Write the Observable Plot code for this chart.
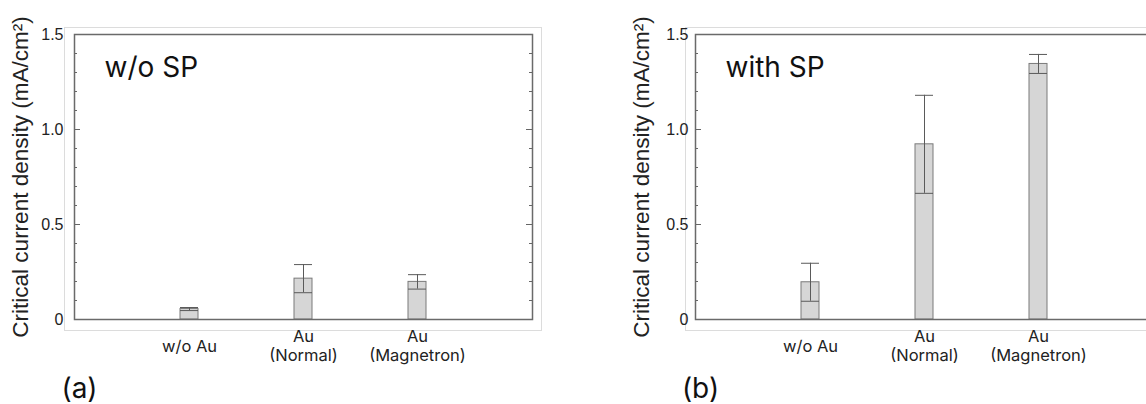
<!DOCTYPE html>
<html><head><meta charset="utf-8">
<script src="https://cdn.jsdelivr.net/npm/d3@7"></script>
<script src="https://cdn.jsdelivr.net/npm/@observablehq/plot@0.6"></script>
<style>
html,body{margin:0;padding:0;background:#fff;overflow:hidden;width:1146px;height:404px;position:relative;}
.panel{position:absolute;top:0;width:573px;height:404px;}
#pa{left:0px} #pb{left:621px}
.panel svg{max-width:none !important;overflow:visible;}
</style></head><body>
<div id="pa" class="panel"></div><div id="pb" class="panel"></div>
<script>
const categories = ["w/o Au", "Au\n(Normal)", "Au\n(Magnetron)"];
const meanWithoutSP = [0.055, 0.215, 0.198];
const sdWithoutSP = [0.008, 0.074, 0.038];
const meanWithSP = [0.196, 0.922, 1.345];
const sdWithSP = [0.100, 0.258, 0.050];
const yTicks = [0, 0.5, 1.0, 1.5];
const yMinorTicks = [0.1, 0.2, 0.3, 0.4, 0.6, 0.7, 0.8, 0.9, 1.1, 1.2, 1.3, 1.4];
const yLabel = "Critical current density (mA/cm²)";
const panelTags = ["(a)", "(b)"];
const panelTitles = ["w/o SP", "with SP"];

const W = 573, H = 404, ML = 74, MR = 41, MT = 34, MB = 85;
const PW = W - ML - MR;
const sans = "Inter, 'Open Sans', sans-serif";
const arial = "'Liberation Sans', Arial, sans-serif";

function panel(tag, title, means, sds, tickPad) {
  const data = categories.map((c, i) => ({cat: c, mean: means[i], sd: sds[i]}));
  return Plot.plot({
    width: W, height: H,
    marginLeft: ML, marginRight: MR, marginTop: MT, marginBottom: MB,
    style: {background: "transparent", overflow: "visible"},
    x: {type: "band", domain: categories, paddingInner: 0.843, paddingOuter: 0.92, axis: null},
    y: {domain: [0, 1.5], axis: null},
    marks: [
      Plot.frame({stroke: "#dcdcdc", strokeWidth: 1, insetLeft: -10, insetTop: -7, insetRight: -9, insetBottom: -11}),
      Plot.tickY(yMinorTicks, {y: d => d, insetRight: PW - 3, stroke: "#666", strokeWidth: 1}),
      Plot.tickY(yMinorTicks, {y: d => d, insetLeft: PW - 3, stroke: "#666", strokeWidth: 1}),
      Plot.tickY(yTicks, {y: d => d, insetRight: PW - 6, stroke: "#666", strokeWidth: 1}),
      Plot.tickY(yTicks, {y: d => d, insetLeft: PW - 6, stroke: "#666", strokeWidth: 1}),
      Plot.barY(data, {x: "cat", y: "mean", fill: "#d6d6d6", stroke: "#7a7a7a", strokeWidth: 1}),
      Plot.ruleX(data, {x: "cat", y1: d => d.mean - d.sd, y2: d => d.mean + d.sd, stroke: "#5a5a5a", strokeWidth: 1}),
      Plot.tickY(data, {x: "cat", y: d => d.mean + d.sd, stroke: "#5a5a5a", strokeWidth: 1}),
      Plot.tickY(data, {x: "cat", y: d => d.mean - d.sd, stroke: "#5a5a5a", strokeWidth: 1}),
      Plot.frame({stroke: "#6a6a6a", strokeWidth: 1.5}),
      Plot.axisY(yTicks, {tickSize: 0, tickPadding: tickPad, tickFormat: d => d === 0 ? "0" : d.toFixed(1), fontSize: 16, fontFamily: arial, fill: "#222", label: null}),
      Plot.text(data, {x: "cat", text: "cat", frameAnchor: "bottom", lineAnchor: "middle", dy: 26, fontSize: 16.5, lineHeight: 1.15, fontFamily: sans, fill: "#222"}),
      Plot.text([yLabel], {frameAnchor: "left", rotate: -90, dx: -54, fontSize: 22.5, fontFamily: arial, fill: "#222", textAnchor: "middle"}),
      Plot.text([title], {frameAnchor: "top-left", dx: 30, dy: 42, lineAnchor: "bottom", textAnchor: "start", fontSize: 28, fontFamily: sans, fill: "#111"}),
      Plot.text([tag], {frameAnchor: "bottom-left", dx: 5, dy: 70, lineAnchor: "middle", textAnchor: "middle", fontSize: 28, fontFamily: sans, fill: "#111"})
    ]
  });
}

document.getElementById("pa").append(panel(panelTags[0], panelTitles[0], meanWithoutSP, sdWithoutSP, 11));
document.getElementById("pb").append(panel(panelTags[1], panelTitles[1], meanWithSP, sdWithSP, 7));
</script>
</body></html>
